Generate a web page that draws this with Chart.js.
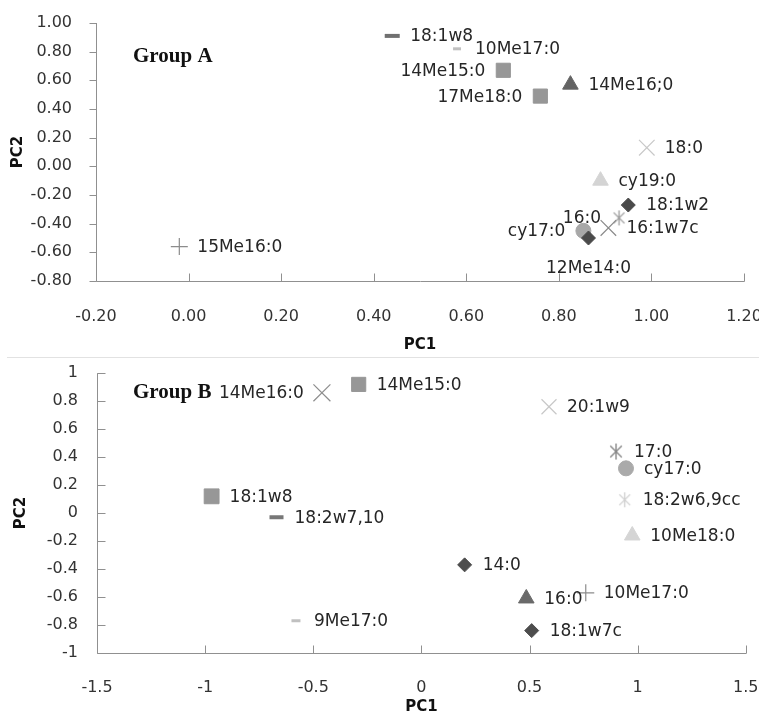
<!DOCTYPE html>
<html>
<head>
<meta charset="utf-8">
<script src="https://cdn.jsdelivr.net/npm/chart.js@4.4.1/dist/chart.umd.min.js"></script>
<style>
  html, body { margin: 0; padding: 0; background: #ffffff; }
  body { width: 759px; height: 716px; position: relative; overflow: hidden; }
  #wrapA { position: absolute; left: 0; top: 0; width: 759px; height: 357px; }
  #wrapB { position: absolute; left: 0; top: 360px; width: 759px; height: 356px; }
  #sep { position: absolute; left: 7px; top: 357px; width: 752px; height: 1px; background: #e2e2e2; }
</style>
</head>
<body>
<div id="wrapA"><canvas id="chartA" width="759" height="357"></canvas></div>
<div id="sep"></div>
<div id="wrapB"><canvas id="chartB" width="759" height="356"></canvas></div>
<script>
// ---------- Group A data ----------
const namesA = ['18:1w8','10Me17:0','14Me15:0','17Me18:0','14Me16;0','18:0','cy19:0','18:1w2','16:0','16:1w7c','cy17:0','12Me14:0','15Me16:0'];
const pc1A   = [0.44, 0.58, 0.68, 0.76, 0.825, 0.99, 0.89, 0.95, 0.93, 0.907, 0.853, 0.864, -0.02];
const pc2A   = [0.91, 0.82, 0.67, 0.49, 0.57, 0.13, -0.10, -0.27, -0.36, -0.43, -0.45, -0.50, -0.56];
const xTicksA = [-0.2, 0, 0.2, 0.4, 0.6, 0.8, 1.0, 1.2];
const yTicksA = [-0.8, -0.6, -0.4, -0.2, 0, 0.2, 0.4, 0.6, 0.8, 1.0];

// ---------- Group B data ----------
const namesB = ['14Me16:0','14Me15:0','20:1w9','17:0','cy17:0','18:2w6,9cc','10Me18:0','18:1w8','18:2w7,10','9Me17:0','14:0','16:0','10Me17:0','18:1w7c'];
const pc1B   = [-0.46, -0.29, 0.59, 0.90, 0.946, 0.94, 0.975, -0.97, -0.67, -0.58, 0.20, 0.485, 0.76, 0.51];
const pc2B   = [0.86, 0.92, 0.76, 0.44, 0.32, 0.095, -0.16, 0.12, -0.03, -0.77, -0.37, -0.61, -0.57, -0.84];
const xTicksB = [-1.5, -1, -0.5, 0, 0.5, 1, 1.5];
const yTicksB = [-1, -0.8, -0.6, -0.4, -0.2, 0, 0.2, 0.4, 0.6, 0.8, 1];

// ---------- styles (kept apart from data) ----------
const labelPosA = ['right','right','left','left','right','right','right','right','left','right','left','below','right'];
const markerA = ['line','line','rect','rect','triangle','crossRot','triangle','rectRot','asterisk','crossRot','circle','rectRot','cross'];
const radiusA = [7.5, 4, 10, 10, 9, 11, 9, 7, 7.5, 11, 7.5, 7, 8.5];
const colorA  = ['#707070','#c0c0c0','#979797','#979797','#636363','#c8c8c8','#d4d4d4','#4a4a4a','#9a9a9a','#8a8a8a','#a8a8a8','#4a4a4a','#8c8c8c'];
const bwA     = [4, 3, 1, 1, 1, 1.2, 1, 1, 1.3, 1.2, 1, 1, 1.2];

const labelPosB = ['left','right','right','right','right','right','right','right','right','right','right','right','right','right'];
const markerB = ['crossRot','rect','crossRot','asterisk','circle','asterisk','triangle','rect','line','line','rectRot','triangle','cross','rectRot'];
const radiusB = [12, 10, 10.6, 8, 7.5, 7.5, 9, 10.5, 7, 4.5, 7, 9, 8.5, 7];
const colorB  = ['#8e8e8e','#979797','#c8c8c8','#888888','#aaaaaa','#cfcfcf','#d5d5d5','#979797','#777777','#c0c0c0','#4d4d4d','#6a6a6a','#8c8c8c','#4d4d4d'];
const bwB     = [1.2, 1, 1.2, 1.4, 1, 1.3, 1, 1, 4, 3, 1, 1, 1.2, 1];

const TICK_FONT = '"DejaVu Sans", sans-serif';

// Excel-like asterisk marker: an X with a vertical stroke
function asteriskCanvas(color, r, lw) {
  const s = Math.ceil(2 * r + 4);
  const c = document.createElement('canvas');
  c.width = s; c.height = s;
  const g = c.getContext('2d');
  const m = s / 2, d = r * 0.72;
  g.strokeStyle = color; g.lineWidth = lw;
  g.beginPath();
  g.moveTo(m - d, m - d); g.lineTo(m + d, m + d);
  g.moveTo(m + d, m - d); g.lineTo(m - d, m + d);
  g.moveTo(m, m - r); g.lineTo(m, m + r);
  g.stroke();
  return c;
}

const deco = {
  id: 'deco',
  afterDatasetsDraw(chart, args, o) {
    const ctx = chart.ctx, xs = chart.scales.x, ys = chart.scales.y;
    const a = chart.chartArea;
    ctx.save();
    ctx.strokeStyle = '#909090';
    ctx.lineWidth = 1;
    ctx.beginPath();
    const L = Math.round(a.left) + 0.5, B = Math.round(a.bottom) + 0.5;
    ctx.moveTo(L, a.top); ctx.lineTo(L, B); ctx.lineTo(a.right + 0.5, B);
    ys.ticks.forEach(t => {
      const py = Math.round(ys.getPixelForValue(t.value)) + 0.5;
      if (o.yTickOut) { ctx.moveTo(L - 7, py); ctx.lineTo(L, py); }
      else { ctx.moveTo(L, py); ctx.lineTo(L + 8, py); }
    });
    xs.ticks.forEach(t => {
      const px = Math.round(xs.getPixelForValue(t.value)) + 0.5;
      ctx.moveTo(px, B); ctx.lineTo(px, B - 8);
    });
    ctx.stroke();

    // data labels
    const meta = chart.getDatasetMeta(0);
    ctx.font = '17px ' + TICK_FONT;
    ctx.fillStyle = '#262626';
    ctx.textBaseline = 'middle';
    meta.data.forEach((el, i) => {
      const p = o.pos[i];
      const txt = o.names[i];
      if (p === 'left') { ctx.textAlign = 'right'; ctx.fillText(txt, el.x - 18, el.y + 1); }
      else if (p === 'below') { ctx.textAlign = 'center'; ctx.fillText(txt, el.x, el.y + 31); }
      else { ctx.textAlign = 'left'; ctx.fillText(txt, el.x + 18, el.y + 1); }
    });

    // group caption
    ctx.font = 'bold 21px "Liberation Serif", serif';
    ctx.fillStyle = '#111';
    ctx.textAlign = 'left';
    ctx.textBaseline = 'alphabetic';
    ctx.fillText(o.group, a.left + o.gx, a.top + o.gy);
    ctx.restore();
  }
};

function makeChart(id, cfg) {
  const pts = cfg.pc1.map((v, i) => ({ x: v, y: cfg.pc2[i] }));
  const styles = cfg.marker.map((m, i) => m === 'asterisk' ? asteriskCanvas(cfg.color[i], cfg.radius[i], cfg.bw[i]) : m);
  return new Chart(document.getElementById(id), {
    type: 'scatter',
    data: { datasets: [{
      data: pts,
      pointStyle: styles,
      pointRadius: cfg.radius,
      pointHoverRadius: cfg.radius,
      pointBackgroundColor: cfg.color,
      pointBorderColor: cfg.color,
      pointBorderWidth: cfg.bw
    }]},
    options: {
      responsive: false,
      animation: false,
      devicePixelRatio: 1,
      events: [],
      layout: { padding: { top: cfg.padTop, right: cfg.padRight, left: 0, bottom: 0 } },
      plugins: {
        legend: { display: false },
        tooltip: { enabled: false },
        deco: { names: cfg.names, pos: cfg.pos, group: cfg.group, gx: cfg.gx, gy: cfg.gy, yTickOut: cfg.yTickOut }
      },
      scales: {
        x: {
          type: 'linear',
          min: cfg.xTicks[0], max: cfg.xTicks[cfg.xTicks.length - 1],
          afterBuildTicks: s => { s.ticks = cfg.xTicks.map(v => ({ value: v })); },
          afterFit: s => { s.height = cfg.xHeight; s.paddingLeft = 0; s.paddingRight = 0; },
          grid: { display: false, drawTicks: false },
          border: { display: false },
          ticks: {
            autoSkip: false, maxRotation: 0, minRotation: 0,
            padding: cfg.xPad, color: '#333',
            font: { family: TICK_FONT, size: 16 },
            callback: v => cfg.fmt(v)
          },
          title: { display: true, text: 'PC1', color: '#111',
                   font: { family: TICK_FONT, size: 15, weight: 'bold' },
                   padding: { top: 0, bottom: cfg.xTitlePad } }
        },
        y: {
          type: 'linear',
          min: cfg.yTicks[0], max: cfg.yTicks[cfg.yTicks.length - 1],
          afterBuildTicks: s => { s.ticks = cfg.yTicks.map(v => ({ value: v })); },
          afterFit: s => { s.width = cfg.yWidth; s.paddingTop = 0; s.paddingBottom = 0; },
          grid: { display: false, drawTicks: false },
          border: { display: false },
          ticks: {
            autoSkip: false, padding: cfg.yPad, color: '#333',
            font: { family: TICK_FONT, size: 16 },
            callback: v => cfg.fmt(v)
          },
          title: { display: true, text: 'PC2', color: '#111',
                   font: { family: TICK_FONT, size: 15, weight: 'bold' },
                   padding: { top: cfg.yTitlePad, bottom: 0 } }
        }
      }
    },
    plugins: [deco]
  });
}

makeChart('chartA', {
  names: namesA, pc1: pc1A, pc2: pc2A, xTicks: xTicksA, yTicks: yTicksA,
  pos: labelPosA, marker: markerA, radius: radiusA, color: colorA, bw: bwA,
  fmt: v => Number(v).toFixed(2),
  padTop: 23, padRight: 15, xHeight: 76, yWidth: 96, xPad: 26, yPad: 24,
  xTitlePad: 3, yTitlePad: 9, group: 'Group A', gx: 37, gy: 39, yTickOut: true
});

makeChart('chartB', {
  names: namesB, pc1: pc1B, pc2: pc2B, xTicks: xTicksB, yTicks: yTicksB,
  pos: labelPosB, marker: markerB, radius: radiusB, color: colorB, bw: bwB,
  fmt: v => String(Math.round(v * 10) / 10),
  padTop: 8, padRight: 12, xHeight: 63, yWidth: 97, xPad: 25, yPad: 19,
  xTitlePad: 0, yTitlePad: 12, group: 'Group B', gx: 36, gy: 25, yTickOut: false
});
</script>
</body>
</html>
